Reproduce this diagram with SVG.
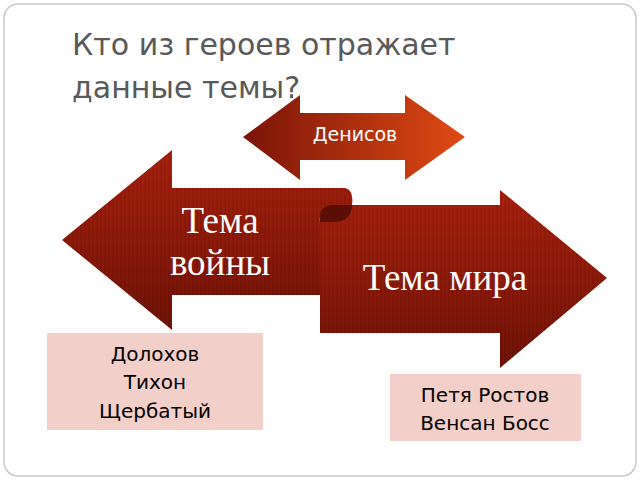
<svg xmlns="http://www.w3.org/2000/svg" width="640" height="480" viewBox="0 0 640 480">
<defs>
<linearGradient id="g1" x1="0" y1="0" x2="0" y2="1"><stop offset="0" stop-color="#a8200e"/><stop offset="0.5" stop-color="#8e1a0a"/><stop offset="1" stop-color="#6e1206"/></linearGradient>
<linearGradient id="g2" x1="0" y1="0" x2="1" y2="0"><stop offset="0" stop-color="#7a1408"/><stop offset="1" stop-color="#e04a14"/></linearGradient>
<pattern id="st" width="4" height="4" patternUnits="userSpaceOnUse"><rect width="2" height="4" fill="#000" opacity="0.08"/></pattern>
</defs>
<style>
.t{font-family:"DejaVu Sans","Noto Sans",sans-serif;fill:#595959;font-size:30px}
.w{font-family:"Liberation Serif","DejaVu Serif",serif;fill:#fff;font-size:37px;text-anchor:middle}
.b{font-family:"DejaVu Sans","Noto Sans",sans-serif;fill:#000;font-size:20px;text-anchor:middle}
.box{fill:#f2cfc9}
</style>
<rect x="4" y="4" width="632" height="472" rx="14" fill="#fff" stroke="#c8c8c8" stroke-width="1.5"/>
<text class="t" x="72" y="55">Кто из героев отражает</text>
<text class="t" x="72" y="98">данные темы?</text>
<g id="denisov">
<path d="M243,137 L300,95 L300,113 L405,113 L405,95 L465,137 L405,180 L405,160 L300,160 L300,180 Z" fill="url(#g2)"/>
<text x="355" y="141" font-family="DejaVu Sans,sans-serif" font-size="19" fill="#fff" text-anchor="middle">Денисов</text>
</g>
<g id="mir">
<path d="M320,205 L500,205 L500,190 L607,278 L500,368 L500,333 L320,333 Z" fill="url(#g1)"/>
<path d="M320,205 L500,205 L500,190 L607,278 L500,368 L500,333 L320,333 Z" fill="url(#st)"/>
<text class="w" x="445" y="290">Тема мира</text>
</g>
<g id="voina">
<path d="M62,240 L172,150 L172,188 L345,188 Q354,190 352,205 L330,205 Q318,208 320,222 L320,295 L172,295 L172,330 Z" fill="url(#g1)"/>
<path d="M62,240 L172,150 L172,188 L345,188 Q354,190 352,205 L330,205 Q318,208 320,222 L320,295 L172,295 L172,330 Z" fill="url(#st)"/>
<path d="M352,205 L330,205 Q318,208 320,222 L336,222 Q352,220 352,205 Z" fill="#5a0e05"/>
<text class="w" x="220" y="233">Тема</text>
<text class="w" x="220" y="275">войны</text>
</g>
<g id="box1">
<rect class="box" x="47" y="333" width="216" height="97"/>
<text class="b" x="155" y="361">Долохов</text>
<text class="b" x="155" y="389">Тихон</text>
<text class="b" x="155" y="418">Щербатый</text>
</g>
<g id="box2">
<rect class="box" x="390" y="374" width="191" height="67"/>
<text class="b" x="485" y="402">Петя Ростов</text>
<text class="b" x="485" y="430">Венсан Босс</text>
</g>
<g id="connectors"/>
</svg>
